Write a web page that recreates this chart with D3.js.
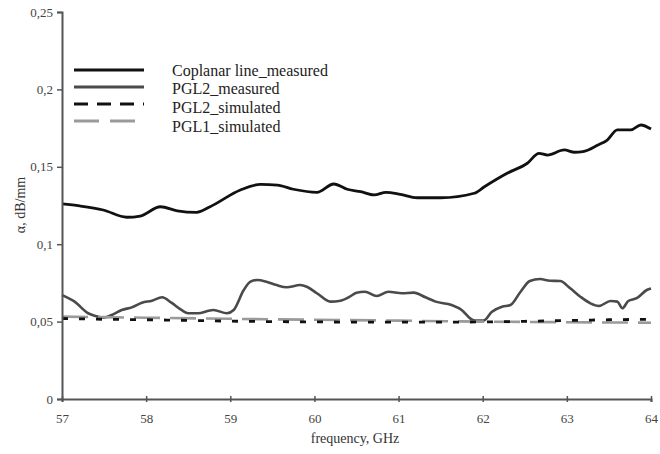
<!DOCTYPE html>
<html>
<head>
<meta charset="utf-8">
<script src="https://cdn.jsdelivr.net/npm/d3@7"></script>
<style>
  html, body { margin: 0; padding: 0; background: #fff; }
  svg { display: block; }
</style>
</head>
<body>
<script>
// ---- data ----
const xTicks = [57, 58, 59, 60, 61, 62, 63, 64];
const yTicks = [0, 0.05, 0.1, 0.15, 0.2, 0.25];
const yTickLabels = ["0", "0,05", "0,1", "0,15", "0,2", "0,25"];
const seriesNames = ["Coplanar line_measured", "PGL2_measured", "PGL2_simulated", "PGL1_simulated"];

const coplanarFreq = [57.00,57.21,57.49,57.77,57.93,58.17,58.37,58.60,58.76,59.12,59.36,59.56,59.75,60.03,60.23,60.39,60.55,60.71,60.85,61.02,61.22,61.50,61.90,62.02,62.29,62.53,62.67,62.77,62.97,63.09,63.19,63.37,63.48,63.60,63.76,63.88,64.00];
const coplanarVal  = [0.1260,0.1247,0.1221,0.1174,0.1182,0.1242,0.1216,0.1206,0.1242,0.1350,0.1387,0.1382,0.1355,0.1335,0.1389,0.1355,0.1339,0.1318,0.1335,0.1322,0.1300,0.1300,0.1329,0.1371,0.1458,0.1523,0.1587,0.1576,0.1609,0.1594,0.1598,0.1641,0.1673,0.1738,0.1738,0.1770,0.1744];

const pgl2MeasFreq = [57.00,57.04,57.15,57.31,57.39,57.49,57.59,57.71,57.83,57.95,58.07,58.19,58.30,58.42,58.50,58.62,58.74,58.80,58.96,59.04,59.16,59.24,59.32,59.43,59.55,59.67,59.83,59.91,60.03,60.19,60.31,60.42,60.50,60.60,60.74,60.88,61.04,61.18,61.32,61.44,61.63,61.75,61.85,61.91,62.01,62.11,62.23,62.33,62.45,62.56,62.68,62.80,62.92,63.04,63.16,63.28,63.38,63.52,63.60,63.66,63.73,63.83,63.95,64.00];
const pgl2MeasVal  = [0.0672,0.0661,0.0629,0.0554,0.0538,0.0525,0.0543,0.0575,0.0592,0.0622,0.0635,0.0657,0.0622,0.0575,0.0554,0.0554,0.0570,0.0575,0.0554,0.0575,0.0704,0.0758,0.0769,0.0758,0.0736,0.0722,0.0736,0.0725,0.0683,0.0629,0.0635,0.0661,0.0687,0.0693,0.0665,0.0693,0.0683,0.0687,0.0657,0.0629,0.0607,0.0575,0.0521,0.0506,0.0506,0.0564,0.0596,0.0607,0.0693,0.0762,0.0775,0.0764,0.0762,0.0715,0.0661,0.0618,0.0601,0.0633,0.0629,0.0586,0.0633,0.0651,0.0704,0.0714];

const pgl2SimFreq = [57,57.5,58,58.5,59,59.5,60,60.5,61,61.5,62,62.5,63,63.5,64];
const pgl2SimVal  = [0.0520,0.0515,0.0512,0.0508,0.0503,0.0500,0.0498,0.0497,0.0497,0.0497,0.0498,0.0502,0.0507,0.0512,0.0515];

const pgl1SimFreq = [57,58,59,60,61,62,63,64];
const pgl1SimVal  = [0.0532,0.0525,0.0518,0.0512,0.0506,0.0500,0.0496,0.0493];

// ---- chart ----
const W = 660, H = 454;
const svg = d3.select("body").append("svg").attr("width", W).attr("height", H);

const x = d3.scaleLinear().domain([57, 64]).range([62, 651]);
const y = d3.scaleLinear().domain([0, 0.25]).range([399, 12]);

const serif = "'Liberation Serif', 'Times New Roman', serif";
const axisColor = "#555";

// lines
const line = d3.line().x(d => x(d[0])).y(d => y(d[1])).curve(d3.curveMonotoneX);
const zip = (a, b) => a.map((v, i) => [v, b[i]]);

const styles = [
  { data: zip(coplanarFreq, coplanarVal), color: "#111", width: 2.8, dash: null, legDash: null },
  { data: zip(pgl2MeasFreq, pgl2MeasVal), color: "#4a4a4a", width: 2.6, dash: null, legDash: null },
  { data: zip(pgl1SimFreq, pgl1SimVal), color: "#9a9a9a", width: 2.6, dash: "26,10", legDash: "25,11" },
  { data: zip(pgl2SimFreq, pgl2SimVal), color: "#111", width: 2.8, dash: "6,11", legDash: "14,9" }
];

styles.forEach(s => {
  svg.append("path")
    .attr("d", line(s.data))
    .attr("fill", "none")
    .attr("stroke", s.color)
    .attr("stroke-width", s.width)
    .attr("stroke-dasharray", s.dash)
    .attr("stroke-linejoin", "round");
});

// axes
const yAxis = d3.axisLeft(y).tickValues(yTicks).tickSize(5).tickPadding(4)
  .tickFormat((d, i) => yTickLabels[i]);
const gy = svg.append("g").attr("transform", "translate(62,0)").call(yAxis);
const xAxis = d3.axisBottom(x).tickValues(xTicks).tickSize(3).tickPadding(12).tickFormat(d3.format("d"));
const gx = svg.append("g").attr("transform", "translate(0,399)").call(xAxis);
gx.selectAll(".tick line").attr("y1", -3);

[gx, gy].forEach(g => {
  g.select(".domain").attr("stroke", axisColor).attr("stroke-width", 2);
  g.selectAll(".tick line").attr("stroke", axisColor).attr("stroke-width", 1.5);
  g.selectAll(".tick text").attr("font-family", serif).attr("font-size", 13).attr("fill", "#444");
});

// titles
svg.append("text").attr("x", 355).attr("y", 443).attr("text-anchor", "middle")
  .attr("font-family", serif).attr("font-size", 14).attr("fill", "#333").text("frequency, GHz");
svg.append("text").attr("transform", "translate(25,205) rotate(-90)").attr("text-anchor", "middle")
  .attr("font-family", serif).attr("font-size", 14).attr("fill", "#333").text("α, dB/mm");

// legend
const legendOrder = [0, 1, 3, 2];
const lineYs = [70, 87, 104, 121];
const textYs = [70, 88, 107, 126];
legendOrder.forEach((si, i) => {
  const s = styles[si];
  svg.append("line").attr("x1", 74).attr("x2", 144).attr("y1", lineYs[i]).attr("y2", lineYs[i])
    .attr("stroke", s.color).attr("stroke-width", si === 0 ? 3.2 : 2.8).attr("stroke-dasharray", s.legDash);
  svg.append("text").attr("x", 172).attr("y", textYs[i]).attr("dy", "0.35em")
    .attr("font-family", serif).attr("font-size", 16).attr("fill", "#222").text(seriesNames[i]);
});
</script>
</body>
</html>
